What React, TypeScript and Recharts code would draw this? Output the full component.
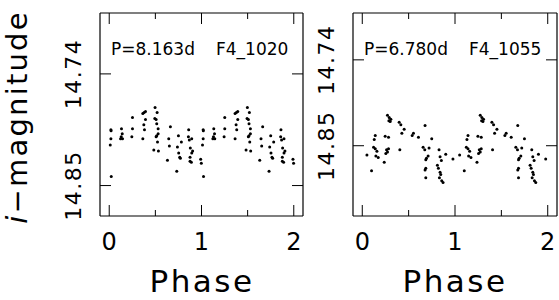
import { Scatter, ScatterChart, XAxis, YAxis } from "recharts";

// F4_1020, P = 8.163 d -- one cycle (phase 0..1), drawn twice
const f1020Phase = [
  0.011, 0.018, 0.02, 0.018, 0.022, 0.123, 0.13, 0.133, 0.141, 0.144, 0.252, 0.252, 0.245, 0.364,
  0.378, 0.393, 0.393, 0.375, 0.382, 0.364, 0.497, 0.519, 0.494, 0.508, 0.515, 0.53, 0.53, 0.515,
  0.508, 0.523, 0.483, 0.533, 0.663, 0.645, 0.652, 0.631, 0.75, 0.739, 0.782, 0.753, 0.764, 0.771,
  0.732, 0.861, 0.858, 0.868, 0.894, 0.879, 0.904, 0.894, 0.876, 0.876, 0.89, 0.991, 0.998,
];
const f1020Mag = [
  14.81, 14.795, 14.796, 14.804, 14.841, 14.804, 14.802, 14.794, 14.799, 14.804, 14.783, 14.794,
  14.802, 14.779, 14.778, 14.777, 14.785, 14.79, 14.795, 14.804, 14.773, 14.778, 14.784, 14.785,
  14.789, 14.794, 14.799, 14.801, 14.802, 14.807, 14.815, 14.816, 14.792, 14.804, 14.811, 14.825,
  14.801, 14.812, 14.807, 14.818, 14.822, 14.823, 14.836, 14.795, 14.802, 14.805, 14.804, 14.813,
  14.816, 14.818, 14.822, 14.826, 14.827, 14.824, 14.828,
];

// F4_1055, P = 6.780 d
const f1055Phase = [
  0.05, 0.1, 0.14, 0.129, 0.122, 0.14, 0.158, 0.147, 0.172, 0.247, 0.283, 0.262, 0.272, 0.254,
  0.283, 0.237, 0.272, 0.29, 0.308, 0.301, 0.287, 0.398, 0.416, 0.452, 0.427, 0.405, 0.552, 0.538,
  0.606, 0.677, 0.749, 0.656, 0.674, 0.72, 0.71, 0.692, 0.685, 0.828, 0.839, 0.853, 0.9, 0.81,
  0.821, 0.839, 0.846, 0.685, 0.677, 0.685, 0.832, 0.857, 0.871, 0.978,
];
const f1055Mag = [
  14.862, 14.882, 14.837, 14.842, 14.852, 14.854, 14.857, 14.863, 14.865, 14.838, 14.839, 14.855,
  14.858, 14.86, 14.854, 14.871, 14.811, 14.814, 14.816, 14.819, 14.818, 14.82, 14.823, 14.829,
  14.834, 14.855, 14.834, 14.837, 14.839, 14.824, 14.841, 14.852, 14.855, 14.853, 14.863, 14.866,
  14.868, 14.855, 14.864, 14.869, 14.861, 14.875, 14.879, 14.884, 14.887, 14.879, 14.881, 14.891,
  14.891, 14.895, 14.897, 14.867,
];

const phaseTicks = [0, 0.5, 1, 1.5, 2];
const magTicks = [14.74, 14.85];

const FONT = "'DejaVu Sans', sans-serif";
const INK = "#000";

// light curve plotted over two cycles
function twoCycles(phase: number[], mag: number[]) {
  const rows = phase.map((p, i) => ({ phase: p, mag: mag[i] }));
  return [...rows, ...rows.map((r) => ({ phase: r.phase + 1, mag: r.mag }))];
}

function BottomTick({ x, y, payload }: any) {
  const major = Number.isInteger(payload.value);
  return (
    <g>
      <line x1={x} y1={y} x2={x} y2={y - (major ? 11 : 6)} stroke={INK} />
      {major && (
        <text x={x} y={y + 34} textAnchor="middle" fontSize={24} fontFamily={FONT} fill={INK}>
          {payload.value}
        </text>
      )}
    </g>
  );
}

function TopTick({ x, y, payload }: any) {
  const major = Number.isInteger(payload.value);
  return <line x1={x} y1={y} x2={x} y2={y + (major ? 11 : 6)} stroke={INK} />;
}

function LeftTick({ x, y, payload }: any) {
  return (
    <g>
      <line x1={x} y1={y} x2={x + 11} y2={y} stroke={INK} />
      <text
        x={x - 19}
        y={y}
        transform={`rotate(-90, ${x - 19}, ${y})`}
        textAnchor="middle"
        fontSize={22}
        letterSpacing={1.5}
        fontFamily={FONT}
        fill={INK}
      >
        {payload.value.toFixed(2)}
      </text>
    </g>
  );
}

function RightTick({ x, y }: any) {
  return <line x1={x} y1={y} x2={x - 11} y2={y} stroke={INK} />;
}

function Dot({ cx, cy }: any) {
  return <circle cx={cx} cy={cy} r={1.5} fill={INK} />;
}

interface PanelProps {
  data: { phase: number; mag: number }[];
  magDomain: [number, number];
  period: string;
  star: string;
  left: number;
  width: number;
  axisWidth: number;
  yTitle?: boolean;
}

function Panel({ data, magDomain, period, star, left, width, axisWidth, yTitle }: PanelProps) {
  const plotLeft = axisWidth;
  return (
    <div style={{ position: "absolute", left, top: 0 }}>
      <ScatterChart width={width} height={300} margin={{ top: 0, right: 0, bottom: 0, left: 0 }}>
        <XAxis
          xAxisId="b"
          type="number"
          dataKey="phase"
          domain={[-0.1, 2.1]}
          ticks={phaseTicks}
          interval={0}
          allowDataOverflow
          height={84}
          tickSize={0}
          tickMargin={0}
          tickLine={false}
          tick={<BottomTick />}
          axisLine={{ stroke: INK, strokeWidth: 1.2 }}
          label={{
            content: () => (
              <text
                x={plotLeft + 102}
                y={292}
                textAnchor="middle"
                fontSize={31}
                letterSpacing={2.5}
                fontFamily={FONT}
                fill={INK}
              >
                Phase
              </text>
            ),
          }}
        />
        <XAxis
          xAxisId="t"
          orientation="top"
          type="number"
          dataKey="phase"
          domain={[-0.1, 2.1]}
          ticks={phaseTicks}
          interval={0}
          allowDataOverflow
          height={13}
          tickSize={0}
          tickMargin={0}
          tickLine={false}
          tick={<TopTick />}
          axisLine={{ stroke: INK, strokeWidth: 1.2 }}
          label={{
            content: () => (
              <g fontSize={17} fontFamily={FONT} fill={INK}>
                <text x={plotLeft + 11} y={55}>{period}</text>
                <text x={plotLeft + 116} y={55}>{star}</text>
              </g>
            ),
          }}
        />
        <YAxis
          yAxisId="l"
          type="number"
          dataKey="mag"
          domain={magDomain}
          reversed
          ticks={magTicks}
          interval={0}
          allowDataOverflow
          width={axisWidth}
          tickSize={0}
          tickMargin={0}
          tickLine={false}
          tick={<LeftTick />}
          axisLine={{ stroke: INK, strokeWidth: 1.2 }}
          label={
            yTitle
              ? {
                  content: () => (
                    <text
                      x={27}
                      y={117}
                      transform="rotate(-90, 27, 117)"
                      textAnchor="middle"
                      fontSize={29}
                      letterSpacing={2.2}
                      fontFamily={FONT}
                      fill={INK}
                    >
                      <tspan fontStyle="italic">i</tspan>−magnitude
                    </text>
                  ),
                }
              : undefined
          }
        />
        <YAxis
          yAxisId="r"
          orientation="right"
          type="number"
          dataKey="mag"
          domain={magDomain}
          reversed
          ticks={magTicks}
          interval={0}
          allowDataOverflow
          width={2}
          tickSize={0}
          tickMargin={0}
          tickLine={false}
          tick={<RightTick />}
          axisLine={{ stroke: INK, strokeWidth: 1.2 }}
        />
        <Scatter xAxisId="b" yAxisId="l" data={data} shape={<Dot />} isAnimationActive={false} />
      </ScatterChart>
    </div>
  );
}

export default function App() {
  return (
    <div
      style={{
        position: "absolute",
        left: 0,
        top: 0,
        width: 559,
        height: 300,
        background: "#fff",
        overflow: "hidden",
      }}
    >
      <Panel
        data={twoCycles(f1020Phase, f1020Mag)}
        magDomain={[14.68, 14.88]}
        period="P=8.163d"
        star="F4_1020"
        left={0}
        width={305}
        axisWidth={100}
        yTitle
      />
      <Panel
        data={twoCycles(f1055Phase, f1055Mag)}
        magDomain={[14.68, 14.94]}
        period="P=6.780d"
        star="F4_1055"
        left={305}
        width={254}
        axisWidth={48}
      />
    </div>
  );
}
